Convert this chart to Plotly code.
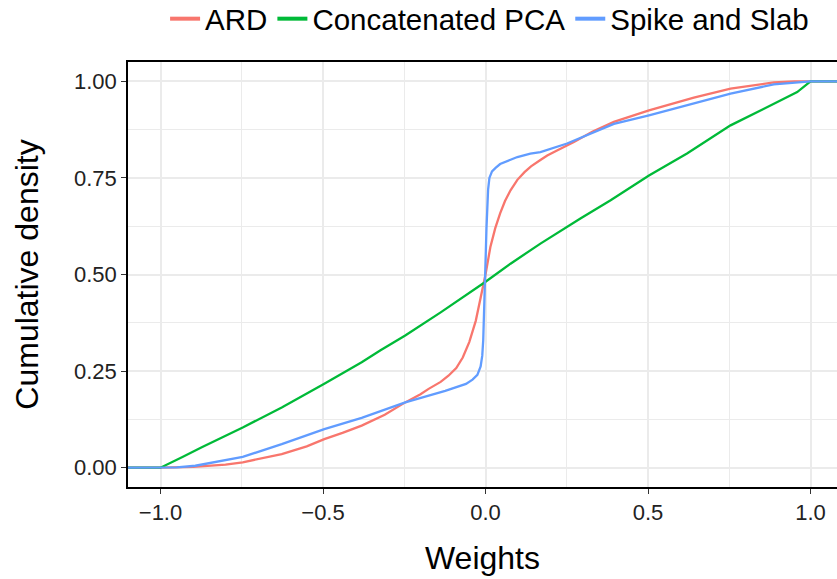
import plotly.graph_objects as go

# ---- data (ECDF curves) ----
ard_x = [-1.1, -1.0, -0.9, -0.8, -0.747, -0.627, -0.55, -0.496, -0.44, -0.381, -0.31, -0.247,
         -0.2, -0.175, -0.138, -0.114, -0.09, -0.07, -0.05, -0.03, -0.015, 0.0, 0.015, 0.03,
         0.045, 0.06, 0.077, 0.098, 0.12, 0.14, 0.17, 0.19, 0.22, 0.272, 0.33, 0.395, 0.503,
         0.641, 0.754, 0.887, 0.95, 1.0, 1.1]
ard_y = [0.0, 0.0, 0.002, 0.008, 0.014, 0.035, 0.055, 0.074, 0.090, 0.109, 0.137, 0.169,
         0.190, 0.204, 0.222, 0.238, 0.258, 0.285, 0.325, 0.38, 0.44, 0.50, 0.571, 0.62,
         0.658, 0.69, 0.718, 0.745, 0.765, 0.780, 0.797, 0.808, 0.821, 0.843, 0.870, 0.895, 0.925,
         0.958, 0.981, 0.997, 1.0, 1.0, 1.0]

pca_x = [-1.1, -1.0, -0.934, -0.873, -0.747, -0.627, -0.496, -0.381, -0.323, -0.247, -0.138,
         -0.002, 0.077, 0.169, 0.292, 0.385, 0.503, 0.62, 0.754, 0.887, 0.959, 1.0, 1.1]
pca_y = [0.0, 0.0, 0.027, 0.053, 0.104, 0.156, 0.217, 0.273, 0.304, 0.342, 0.402,
         0.480, 0.528, 0.580, 0.645, 0.692, 0.756, 0.813, 0.886, 0.942, 0.972, 1.0, 1.0]

ss_x = [-1.1, -1.0, -0.95, -0.893, -0.747, -0.627, -0.496, -0.381, -0.247, -0.124, -0.09,
        -0.06, -0.04, -0.025, -0.015, -0.01, -0.007, -0.004, -0.002, 0.001, 0.003, 0.005,
        0.008, 0.012, 0.02, 0.031, 0.045, 0.077, 0.098, 0.138, 0.169, 0.251, 0.395, 0.503,
        0.641, 0.754, 0.887, 1.0, 1.1]
ss_y = [0.0, 0.0, 0.001, 0.005, 0.028, 0.061, 0.100, 0.129, 0.169, 0.199, 0.208,
        0.217, 0.228, 0.240, 0.262, 0.290, 0.330, 0.400, 0.476, 0.560, 0.620, 0.680,
        0.720, 0.750, 0.767, 0.776, 0.786, 0.797, 0.804, 0.813, 0.817, 0.839, 0.890, 0.912,
        0.942, 0.968, 0.992, 1.0, 1.0]

series = [
    ("ARD", ard_x, ard_y, "#F8766D"),
    ("Concatenated PCA", pca_x, pca_y, "#00BA38"),
    ("Spike and Slab", ss_x, ss_y, "#619CFF"),
]

x_ticks = [-1.0, -0.5, 0.0, 0.5, 1.0]
y_ticks = [0.0, 0.25, 0.5, 0.75, 1.0]

FONT = "Liberation Sans, Arial, Helvetica, sans-serif"

fig = go.Figure()
for name, xs, ys, col in series:
    fig.add_trace(go.Scatter(x=xs, y=ys, mode="lines", name=name, legendgroup=name,
                             showlegend=False, line=dict(color=col, width=2.3)))
for name, xs, ys, col in series:
    fig.add_trace(go.Scatter(x=[None], y=[None], mode="lines", name=name, legendgroup=name,
                             showlegend=True, line=dict(color=col, width=4)))

grid = "#EBEBEB"
fig.update_layout(
    width=837, height=579,
    margin=dict(l=128, r=0, t=62, b=92),
    paper_bgcolor="white", plot_bgcolor="white",
    font=dict(family=FONT, color="black"),
    showlegend=True,
    legend=dict(orientation="h", x=0.51, xanchor="center", xref="paper",
                y=1 - 19 / 579, yanchor="middle", yref="container",
                font=dict(size=29.5, color="black"), itemwidth=30,
                bgcolor="rgba(0,0,0,0)", tracegroupgap=0),
    xaxis=dict(range=[-1.1, 1.0815], tickvals=x_ticks, tickformat=".1f",
               showline=True, linecolor="black", linewidth=1.6, mirror=True,
               ticks="outside", ticklen=5, tickwidth=1.4, tickcolor="#333333",
               tickfont=dict(size=22, color="#222222"),
               showgrid=True, gridcolor=grid, gridwidth=1.6,
               minor=dict(dtick=0.25, tick0=0, showgrid=True, gridcolor=grid, gridwidth=1),
               zeroline=False,
               title=dict(text="Weights", font=dict(size=32), standoff=22)),
    yaxis=dict(range=[-0.05, 1.05], tickvals=y_ticks, tickformat=".2f",
               showline=True, linecolor="black", linewidth=1.6, mirror=False,
               ticks="outside", ticklen=5, tickwidth=1.4, tickcolor="#333333",
               tickfont=dict(size=22, color="#222222"),
               showgrid=True, gridcolor=grid, gridwidth=1.6,
               minor=dict(dtick=0.125, tick0=0, showgrid=True, gridcolor=grid, gridwidth=1),
               zeroline=False,
               title=dict(text="Cumulative density", font=dict(size=32), standoff=26)),
)

fig.write_html("out.html")
